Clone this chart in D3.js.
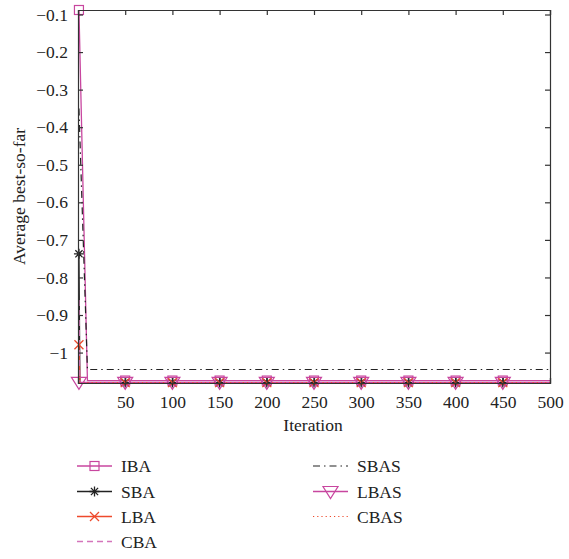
<!DOCTYPE html>
<html>
<head>
<meta charset="utf-8">
<script src="https://cdn.jsdelivr.net/npm/d3@7"></script>
<style>
  html, body { margin: 0; padding: 0; background: #fff; }
  svg { display: block; }
  text { font-family: "Liberation Serif", "DejaVu Serif", serif; fill: #222; }
</style>
</head>
<body>
<svg id="chart" width="569" height="559"></svg>
<script>
// Convergence curves: iteration vs. average best-so-far value
const seriesNames = ["IBA", "SBA", "LBA", "CBA", "SBAS", "LBAS", "CBAS"];
const iterations = [1, 10, 50, 100, 150, 200, 250, 300, 350, 400, 450, 500];
const ibaValues  = [-0.088, -1.0745, -1.0745, -1.0745, -1.0745, -1.0745, -1.0745, -1.0745, -1.0745, -1.0745, -1.0745, -1.0745];
const sbaIters   = [1, 2, 50, 100, 150, 200, 250, 300, 350, 400, 450, 500];
const sbaValues  = [-0.737, -1.080, -1.080, -1.080, -1.080, -1.080, -1.080, -1.080, -1.080, -1.080, -1.080, -1.080];
const lbaValues  = [-0.979, -1.080, -1.080, -1.080, -1.080, -1.080, -1.080, -1.080, -1.080, -1.080, -1.080, -1.080];
const cbaValues  = [-0.86, -1.080, -1.080, -1.080, -1.080, -1.080, -1.080, -1.080, -1.080, -1.080, -1.080, -1.080];
const sbasValues = [-0.35, -1.045, -1.045, -1.045, -1.045, -1.045, -1.045, -1.045, -1.045, -1.045, -1.045, -1.045];
const lbasValues = [-1.0795, -1.0795, -1.0795, -1.0795, -1.0795, -1.0795, -1.0795, -1.0795, -1.0795, -1.0795, -1.0795, -1.0795];
const cbasValues = [-1.080, -1.080, -1.080, -1.080, -1.080, -1.080, -1.080, -1.080, -1.080, -1.080, -1.080, -1.080];
const markerIters = [1, 50, 100, 150, 200, 250, 300, 350, 400, 450];
const xTicks = [50, 100, 150, 200, 250, 300, 350, 400, 450, 500];
const yTicks = [-1, -0.9, -0.8, -0.7, -0.6, -0.5, -0.4, -0.3, -0.2, -0.1];

const svg = d3.select("#chart");
const mLeft = 78, mRight = 550, mTop = 10, mBottom = 383;

const x = d3.scaleLinear().domain([0, 500]).range([mLeft, mRight]);
const y = d3.scaleLinear().domain([-1.081, -0.088]).range([mBottom, mTop]);

const pink = "#c8469f", black = "#222", red = "#ee4a2c", pinkLight = "#d474bb";

const series = [
  { name: "IBA",  xs: iterations, vals: ibaValues,  color: pink,  dash: null,          marker: "square",   width: 1.3 },
  { name: "SBA",  xs: sbaIters,   vals: sbaValues,  color: black, dash: null,          marker: "asterisk", width: 1.3 },
  { name: "LBA",  xs: sbaIters,   vals: lbaValues,  color: red,   dash: null,          marker: "cross",    width: 1.3 },
  { name: "CBA",  xs: sbaIters,   vals: cbaValues,  color: pinkLight, dash: "6,4",     marker: null,       width: 1.3 },
  { name: "SBAS", xs: iterations, vals: sbasValues, color: black, dash: "7,4,1.5,4",   marker: null,       width: 1.2 },
  { name: "LBAS", xs: iterations, vals: lbasValues, color: pink,  dash: null,          marker: "triangle", width: 1.3 },
  { name: "CBAS", xs: iterations, vals: cbasValues, color: red,   dash: "1.2,3",       marker: null,       width: 1.2 }
];

// Draw marker glyph centred at (0,0)
function drawMarker(g, type, color) {
  if (type === "square") {
    g.append("rect").attr("x", -4.5).attr("y", -4.5).attr("width", 9).attr("height", 9)
      .attr("fill", "none").attr("stroke", color).attr("stroke-width", 1.2);
  } else if (type === "triangle") {
    g.append("path").attr("d", "M-7.5,-5 L7.5,-5 L0,7 Z")
      .attr("fill", "none").attr("stroke", color).attr("stroke-width", 1.2);
  } else if (type === "cross") {
    g.append("path").attr("d", "M-4.5,-4.5 L4.5,4.5 M-4.5,4.5 L4.5,-4.5")
      .attr("stroke", color).attr("stroke-width", 1.3);
  } else if (type === "asterisk") {
    g.append("path").attr("d", "M-5,0 L5,0 M0,-5 L0,5 M-3.6,-3.6 L3.6,3.6 M-3.6,3.6 L3.6,-3.6")
      .attr("stroke", color).attr("stroke-width", 1.3);
  }
}

const plot = svg.append("g");
const line = d3.line().x(d => x(d[0])).y(d => y(d[1]));

series.forEach(s => {
  const pts = s.xs.map((it, i) => [it, s.vals[i]]);
  plot.append("path").datum(pts).attr("d", line)
    .attr("fill", "none").attr("stroke", s.color).attr("stroke-width", s.width)
    .attr("stroke-dasharray", s.dash);
});

// markers drawn on top, in the same order
series.forEach(s => {
  if (!s.marker) return;
  markerIters.forEach(it => {
    const idx = s.xs.indexOf(it);
    const v = idx >= 0 ? s.vals[idx] : s.vals[s.vals.length - 1];
    const g = plot.append("g").attr("transform", `translate(${x(it)},${y(v)})`);
    drawMarker(g, s.marker, s.color);
  });
});

// Axes box with inward ticks
const axisColor = "#333";
const fmt = d => d3.format(".1f")(d).replace("-", "\u2212").replace(/\.0$/, "");

const gB = svg.append("g").attr("transform", `translate(0,${mBottom})`)
  .call(d3.axisBottom(x).tickValues(xTicks).tickSize(-5).tickPadding(13).tickFormat(d3.format("d")));
const gT = svg.append("g").attr("transform", `translate(0,${mTop})`)
  .call(d3.axisTop(x).tickValues(xTicks).tickSize(-5).tickFormat(""));
const gL = svg.append("g").attr("transform", `translate(${mLeft},0)`)
  .call(d3.axisLeft(y).tickValues(yTicks).tickSize(-5).tickPadding(10).tickFormat(d => fmt(d)));
const gR = svg.append("g").attr("transform", `translate(${mRight},0)`)
  .call(d3.axisRight(y).tickValues(yTicks).tickSize(-5).tickFormat(""));

[gB, gT, gL, gR].forEach(g => {
  g.select(".domain").attr("stroke", axisColor).attr("stroke-width", 1.2);
  g.selectAll(".tick line").attr("stroke", axisColor).attr("stroke-width", 1.2);
  g.selectAll(".tick text").attr("font-size", 17.5)
    .attr("font-family", "Liberation Serif, DejaVu Serif, serif").attr("fill", "#222");
});

// Axis titles
svg.append("text").attr("x", 313).attr("y", 431)
  .attr("text-anchor", "middle").attr("font-size", 17.5).text("Iteration");
svg.append("text").attr("transform", `translate(25,${(mTop + mBottom) / 2}) rotate(-90)`)
  .attr("text-anchor", "middle").attr("font-size", 17.5).text("Average best-so-far");

// Legend in two columns
const legendPos = [
  [77, 466], [77, 491.5], [77, 516.5], [77, 541.5],
  [313, 466], [313, 491.5], [313, 516.5]
];
series.forEach((s, i) => {
  const [lx, ly] = legendPos[i];
  const g = svg.append("g").attr("transform", `translate(${lx},${ly})`);
  g.append("line").attr("x1", 0).attr("x2", 35).attr("y1", 0).attr("y2", 0)
    .attr("stroke", s.color).attr("stroke-width", s.width).attr("stroke-dasharray", s.dash);
  if (s.marker) {
    const m = g.append("g").attr("transform", "translate(17.5,0)");
    drawMarker(m, s.marker, s.color);
  }
  g.append("text").attr("x", 44).attr("y", 6).attr("font-size", 17.5).text(seriesNames[i]);
});
</script>
</body>
</html>
